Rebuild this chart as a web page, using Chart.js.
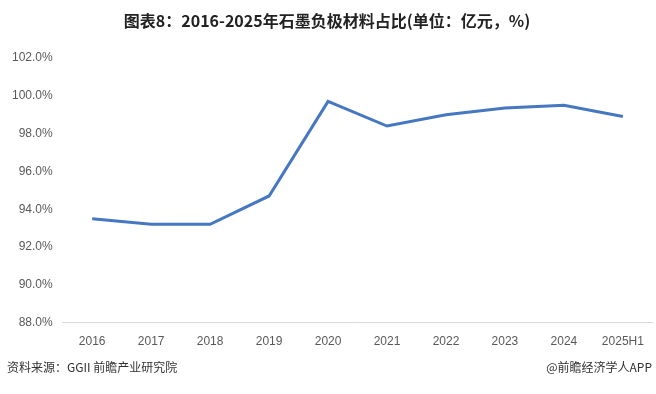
<!DOCTYPE html>
<html>
<head>
<meta charset="utf-8">
<script src="https://cdn.jsdelivr.net/npm/chart.js@4"></script>
<style>
  html, body { margin: 0; padding: 0; background: #fff; }
  #wrap { width: 656px; height: 394px; position: relative; }
</style>
</head>
<body>
<div id="wrap"><canvas id="chart"></canvas></div>
<script>
// chart data
var years = ['2016', '2017', '2018', '2019', '2020', '2021', '2022', '2023', '2024', '2025H1'];
var share = [93.5, 93.2, 93.2, 94.7, 99.7, 98.4, 99.0, 99.35, 99.5, 98.9];
var yMin = 88, yMax = 102, yStep = 2;

var titleText = '图表8：2016-2025年石墨负极材料占比(单位：亿元，%)';
var sourceText = '资料来源：GGII 前瞻产业研究院';
var brandText = '@前瞻经济学人APP';

var cjk = '"Noto Sans CJK SC", "Noto Sans", sans-serif';
var tickFont = { size: 12, family: '"Liberation Sans", Arial, sans-serif' };

// title and footer are painted on the canvas
var textPlugin = {
  id: 'texts',
  afterDraw: function(chart) {
    var ctx = chart.ctx;
    ctx.save();
    ctx.fillStyle = '#222';
    ctx.font = 'bold 16px ' + cjk;
    ctx.textAlign = 'center';
    ctx.textBaseline = 'middle';
    ctx.fillText(titleText, 327, 21);

    ctx.fillStyle = '#333';
    ctx.font = '12px ' + cjk;
    ctx.textAlign = 'left';
    ctx.fillText(sourceText, 7, 367);
    ctx.textAlign = 'right';
    ctx.fillText(brandText, 652, 367);
    ctx.restore();
  }
};

var ctx = document.getElementById('chart');
new Chart(ctx, {
  type: 'line',
  data: {
    labels: years,
    datasets: [{
      data: share,
      borderColor: '#4678c2',
      borderWidth: 3,
      pointRadius: 0,
      fill: false,
      tension: 0
    }]
  },
  options: {
    responsive: true,
    maintainAspectRatio: false,
    animation: false,
    layout: { padding: { top: 58, left: 2, right: 2, bottom: 33 } },
    plugins: {
      legend: { display: false },
      tooltip: { enabled: false }
    },
    scales: {
      x: {
        offset: true,
        grid: { display: false, drawTicks: false },
        border: { color: '#d9d9d9', width: 1 },
        ticks: { color: '#595959', font: tickFont, padding: 12, maxRotation: 0 }
      },
      y: {
        min: yMin,
        max: yMax,
        grid: { display: false, drawTicks: false },
        border: { display: false },
        ticks: {
          stepSize: yStep,
          color: '#595959',
          font: tickFont,
          padding: 10,
          callback: function(v) { return v.toFixed(1) + '%'; }
        }
      }
    }
  },
  plugins: [textPlugin]
});
</script>
</body>
</html>
